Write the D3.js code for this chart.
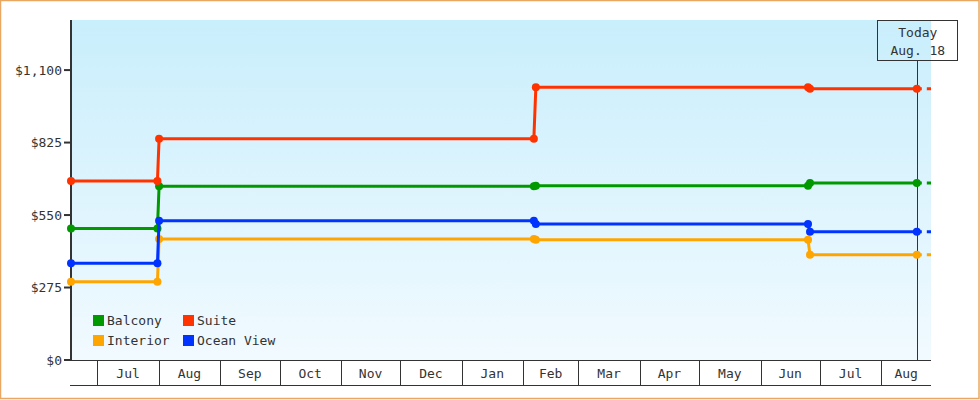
<!DOCTYPE html>
<html><head><meta charset="utf-8">
<script src="https://cdn.jsdelivr.net/npm/d3@7"></script>
<style>
html,body{margin:0;padding:0;background:#fff;}
svg{display:block;}
text{font-family:"DejaVu Sans Mono",monospace;font-size:13px;fill:#333;}
</style></head>
<body>
<svg id="chart" width="980" height="400"></svg>
<script>
// ---- data ----
const domainDates = ["2017-06-17T16:00", "2018-08-26T03:00"];
const pointDates = ["2017-06-17T16:00","2017-07-31T08:00","2017-08-01T04:00","2018-02-06T12:00","2018-02-07T12:00","2018-06-25T00:00","2018-06-26T00:00","2018-08-18T23:00"];
const seriesNames = ["Interior","Balcony","Suite","Ocean View"];
const interior  = [297, 297, 459, 459, 456, 456, 399, 399];
const balcony   = [499, 499, 659, 659, 661, 661, 672, 672];
const suite     = [679, 679, 839, 839, 1035, 1035, 1029, 1029];
const oceanView = [367, 367, 528, 528, 516, 516, 487, 487];
const seriesColors = ["#ffa500","#009900","#ff3300","#0033ff"];
const yTicks = [0, 275, 550, 825, 1100];
const yMax = 1290;
const monthStarts = ["2017-06-01","2017-07-01","2017-08-01","2017-09-01","2017-10-01","2017-11-01","2017-12-01","2018-01-01","2018-02-01","2018-03-01","2018-04-01","2018-05-01","2018-06-01","2018-07-01","2018-08-01","2018-09-01"];
const monthLabels = ["Jun","Jul","Aug","Sep","Oct","Nov","Dec","Jan","Feb","Mar","Apr","May","Jun","Jul","Aug"];
const todayDate = "2018-08-18T23:00";
const todayLines = ["Today","Aug. 18"];
const legendOrder = ["Balcony","Suite","Interior","Ocean View"];

// ---- layout ----
const svg = d3.select("#chart");
const L = 71, R = 931, T = 20, B = 360;
const parse = s => new Date(s);
const x = d3.scaleTime().domain(domainDates.map(parse)).range([L, R]);
const y = d3.scaleLinear().domain([0, yMax]).range([B, T]);

// outer border
svg.append("rect").attr("x",0.5).attr("y",0.5).attr("width",978.5).attr("height",398)
  .attr("fill","#fff").attr("stroke","#e8a864").attr("stroke-width",1.5);

// gradient background
const defs = svg.append("defs");
const grad = defs.append("linearGradient").attr("id","bg").attr("x1",0).attr("y1",0).attr("x2",0).attr("y2",1);
grad.append("stop").attr("offset","0%").attr("stop-color","#c9eefc");
grad.append("stop").attr("offset","100%").attr("stop-color","#f1faff");
svg.append("rect").attr("x",L).attr("y",T).attr("width",R-L).attr("height",B-T).attr("fill","url(#bg)");

defs.append("clipPath").attr("id","clip").append("rect").attr("x",L-6).attr("y",T).attr("width",R-L+6).attr("height",B-T+6);

// y axis
const yAxis = svg.append("g");
yAxis.append("line").attr("x1",L).attr("x2",L).attr("y1",T).attr("y2",B+1).attr("stroke","#333").attr("stroke-width",2);
yTicks.forEach(v => {
  yAxis.append("line").attr("x1",L-7).attr("x2",L).attr("y1",y(v)).attr("y2",y(v)).attr("stroke","#333").attr("stroke-width",2);
  yAxis.append("text").attr("x",L-9).attr("y",y(v)).attr("dy","0.35em").attr("text-anchor","end")
    .text("$" + d3.format(",")(v));
});

// x axis bands
const xAxis = svg.append("g");
xAxis.append("line").attr("x1",L).attr("x2",R).attr("y1",B+0.5).attr("y2",B+0.5).attr("stroke","#333");
xAxis.append("line").attr("x1",L-1).attr("x2",R).attr("y1",385.5).attr("y2",385.5).attr("stroke","#333");
monthLabels.forEach((lab, i) => {
  const s = x(parse(monthStarts[i])), e = x(parse(monthStarts[i+1]));
  const x0 = Math.max(s, L), x1 = Math.min(e, R);
  if (s > L && s < R) {
    xAxis.append("line").attr("x1",Math.round(s)+0.5).attr("x2",Math.round(s)+0.5).attr("y1",B).attr("y2",385)
      .attr("stroke","#333");
  }
  if (x1 - x0 > 35) {
    xAxis.append("text").attr("x",(x0+x1)/2).attr("y",377.5).attr("text-anchor","middle").text(lab);
  }
});

// today line & box
const tx = x(parse(todayDate));
svg.append("line").attr("x1",Math.round(tx)+0.5).attr("x2",Math.round(tx)+0.5).attr("y1",60).attr("y2",B)
  .attr("stroke","#333");
svg.append("rect").attr("x",Math.round(tx)-39.5).attr("y",20.5).attr("width",80).attr("height",40)
  .attr("fill","none").attr("stroke","#333");
svg.append("text").attr("x",tx+1).attr("y",37).attr("text-anchor","middle").text(todayLines[0]);
svg.append("text").attr("x",tx+1).attr("y",55).attr("text-anchor","middle").text(todayLines[1]);

// series
const allValues = [interior, balcony, suite, oceanView];
const dates = pointDates.map(parse);
const line = d3.line().x(d => x(d[0])).y(d => y(d[1]));
const g = svg.append("g").attr("clip-path","url(#clip)");
allValues.forEach((vals, si) => {
  const pts = dates.map((d, i) => [d, vals[i]]);
  const col = seriesColors[si];
  const last = pts[pts.length-1];
  g.append("path").attr("d", line([last, [x.domain()[1], last[1]]]))
    .attr("fill","none").attr("stroke",col).attr("stroke-width",3).attr("stroke-dasharray","5,5");
  g.append("path").attr("d", line(pts)).attr("fill","none").attr("stroke",col).attr("stroke-width",3);
  g.selectAll(null).data(pts).enter().append("circle")
    .attr("cx", d => x(d[0])).attr("cy", d => y(d[1])).attr("r",4).attr("fill",col);
});

// legend
const lg = svg.append("g");
legendOrder.forEach((name, i) => {
  const col = seriesColors[seriesNames.indexOf(name)];
  const cx = 93 + (i % 2) * 90, cy = 315 + Math.floor(i / 2) * 20;
  lg.append("rect").attr("x",cx).attr("y",cy).attr("width",11).attr("height",11).attr("fill",col);
  lg.append("text").attr("x",cx+14).attr("y",cy+10).text(name);
});
</script>
</body></html>
